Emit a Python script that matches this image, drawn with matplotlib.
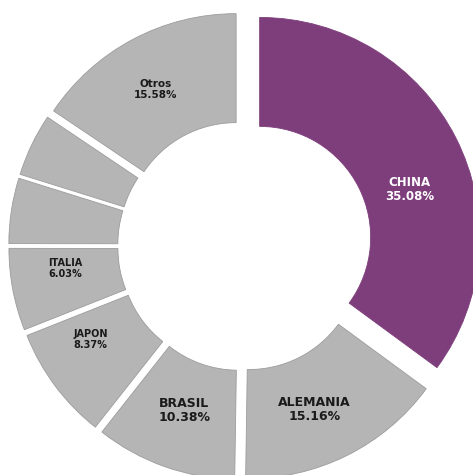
import numpy as np
import matplotlib.pyplot as plt

# datos del grafico (porcentaje por pais)
paises = ['CHINA', 'ALEMANIA', 'BRASIL', 'JAPON', 'ITALIA', '', '', 'Otros']
porcentajes = [35.08, 15.16, 10.38, 8.37, 6.03, 4.8, 4.6, 15.58]
textos_pct = ['35.08%', '15.16%', '10.38%', '8.37%', '6.03%', '', '', '15.58%']

colores = ['#7e3e7c'] + ['#b5b5b5'] * 7
separacion = [19, 14, 14, 14, 14, 14, 14, 14]  # desplazamiento de cada porcion
tam_letra = [8.5, 9, 9, 7, 7, 7, 7, 7.5]
color_letra = ['white'] + ['#1a1a1a'] * 7
giro_etiqueta = [-9, -3, 0, -5.5, -4, 0, 0, 1]
dist_etiqueta = [0.715, 0.75, 0.73, 0.75, 0.75, 0.75, 0.75, 0.75]

R = 220
ancho = 109

fig = plt.figure(figsize=(4.73, 4.75), dpi=100)
ax = fig.add_axes([0, 0, 1, 1])

etiquetas = [f'{p}\n{t}' if p else '' for p, t in zip(paises, textos_pct)]

wedges, texts = ax.pie(porcentajes, radius=R, center=(242.7, 229),
                       startangle=90, counterclock=False, colors=colores,
                       explode=separacion, labels=etiquetas, labeldistance=0.75,
                       wedgeprops=dict(width=ancho, edgecolor='#9c9c9c', linewidth=0.6))
wedges[0].set_edgecolor(colores[0])

for w, t, fs, c, g, d in zip(wedges, texts, tam_letra, color_letra, giro_etiqueta, dist_etiqueta):
    medio = np.deg2rad((w.theta1 + w.theta2) / 2 + g)
    cx, cy = w.center
    t.set_position((cx + d * R * np.cos(medio), cy + d * R * np.sin(medio)))
    t.set_ha('center')
    t.set_va('center')
    t.set_multialignment('center')
    t.set_fontsize(fs)
    t.set_color(c)
    t.set_fontweight('bold')
    t.set_linespacing(1.1)

ax.set_xlim(0, 473)
ax.set_ylim(0, 475)
ax.axis('off')

fig.savefig('out.png', dpi=100)
